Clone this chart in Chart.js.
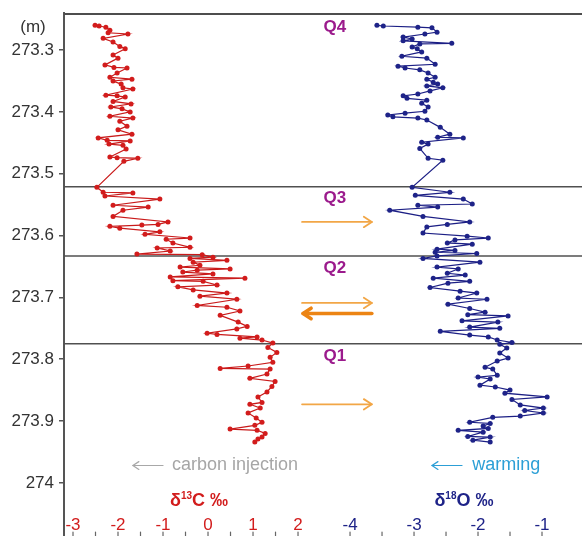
<!DOCTYPE html>
<html>
<head>
<meta charset="utf-8">
<script src="https://cdn.jsdelivr.net/npm/chart.js@4.4.0/dist/chart.umd.min.js"></script>
<style>
  body { margin: 0; background: #fff; }
  canvas { display: block; }
</style>
</head>
<body>
<canvas id="isoChart" width="582" height="536"></canvas>
<script>
// depth (m) and delta13C (permil)
const redDepth = [
  273.260, 273.261, 273.263, 273.268, 273.272, 273.274, 273.281, 273.287, 273.294, 273.298,
  273.308, 273.313, 273.324, 273.328, 273.329, 273.337, 273.344, 273.347, 273.350, 273.355,
  273.361, 273.363, 273.373, 273.374, 273.376, 273.383, 273.387, 273.392, 273.395, 273.400,
  273.407, 273.410, 273.415, 273.423, 273.429, 273.436, 273.442, 273.446, 273.447, 273.452,
  273.454, 273.460, 273.473, 273.474, 273.475, 273.480, 273.522, 273.530, 273.531, 273.536,
  273.541, 273.551, 273.554, 273.559, 273.569, 273.578, 273.582, 273.583, 273.585, 273.588,
  273.594, 273.598, 273.604, 273.606, 273.612, 273.619, 273.620, 273.625, 273.630, 273.631,
  273.635, 273.637, 273.640, 273.643, 273.648, 273.651, 273.654, 273.656, 273.659, 273.662,
  273.667, 273.669, 273.673, 273.674, 273.680, 273.683, 273.688, 273.693, 273.698, 273.703,
  273.713, 273.716, 273.722, 273.729, 273.740, 273.747, 273.751, 273.758, 273.760, 273.764,
  273.766, 273.769, 273.774, 273.781, 273.789, 273.797, 273.805, 273.811, 273.815, 273.816,
  273.824, 273.831, 273.836, 273.844, 273.853, 273.861, 273.870, 273.873, 273.879, 273.887,
  273.895, 273.902, 273.907, 273.913, 273.915, 273.920, 273.926, 273.929, 273.934
];
const redValue = [
  -2.51, -2.42, -2.27, -2.18, -2.22, -1.78, -2.33, -2.11, -1.96, -1.84,
  -2.11, -2.00, -2.29, -2.09, -1.80, -2.02, -2.18, -1.69, -2.11, -1.93,
  -1.89, -1.67, -2.27, -2.02, -1.84, -2.11, -1.71, -2.16, -1.91, -1.73,
  -2.18, -1.67, -1.96, -1.80, -2.00, -1.69, -2.44, -2.24, -1.73, -2.20,
  -1.89, -1.82, -2.18, -2.02, -1.56, -1.87, -2.47, -2.33, -1.67, -2.29,
  -1.07, -2.11, -1.33, -1.89, -2.11, -0.89, -1.11, -1.47, -2.18, -1.96,
  -1.07, -1.40, -0.40, -0.93, -0.78, -0.40, -1.13, -0.84, -1.58, -0.13,
  0.11, -0.40, 0.42, -0.33, -0.18, -0.62, 0.49, -0.24, -0.56, 0.11,
  -0.84, 0.82, -0.78, -0.11, 0.20, -0.67, -0.33, 0.42, -0.18, 0.64,
  -0.24, 0.42, 0.71, 0.27, 0.67, 0.87, 0.64, -0.02, 0.20, 1.09,
  0.71, 1.20, 1.44, 1.33, 1.53, 1.38, 1.44, 0.89, 0.27, 1.38,
  1.31, 0.93, 1.49, 1.42, 1.31, 1.11, 1.20, 0.93, 1.16, 0.89,
  1.07, 1.20, 1.04, 0.49, 1.09, 1.27, 1.20, 1.11, 1.04
];

// depth (m) and delta18O (permil)
const blueDepth = [
  273.260, 273.261, 273.263, 273.264, 273.271, 273.274, 273.279, 273.282, 273.285, 273.289,
  273.290, 273.295, 273.298, 273.303, 273.310, 273.313, 273.323, 273.326, 273.329, 273.332,
  273.337, 273.344, 273.347, 273.352, 273.355, 273.358, 273.361, 273.366, 273.371, 273.374,
  273.378, 273.381, 273.386, 273.392, 273.399, 273.402, 273.405, 273.408, 273.410, 273.413,
  273.425, 273.436, 273.441, 273.442, 273.449, 273.452, 273.459, 273.475, 273.478, 273.522,
  273.530, 273.535, 273.541, 273.549, 273.551, 273.554, 273.559, 273.569, 273.578, 273.582,
  273.586, 273.596, 273.601, 273.604, 273.607, 273.612, 273.614, 273.622, 273.624, 273.627,
  273.629, 273.633, 273.637, 273.643, 273.651, 273.654, 273.661, 273.664, 273.669, 273.674,
  273.677, 273.684, 273.690, 273.693, 273.701, 273.703, 273.711, 273.718, 273.724, 273.728,
  273.730, 273.738, 273.740, 273.748, 273.750, 273.755, 273.761, 273.764, 273.769, 273.773,
  273.776, 273.782, 273.790, 273.798, 273.803, 273.813, 273.816, 273.826, 273.829, 273.832,
  273.842, 273.845, 273.850, 273.855, 273.861, 273.865, 273.874, 273.879, 273.883, 273.887,
  273.892, 273.894, 273.902, 273.904, 273.908, 273.912, 273.915, 273.918, 273.925, 273.926,
  273.931, 273.934
];
const blueValue = [
  -3.58, -3.48, -2.94, -2.72, -2.64, -2.83, -3.17, -3.03, -3.17, -2.41,
  -2.91, -3.03, -2.95, -2.88, -3.19, -2.80, -2.67, -3.25, -3.14, -2.91,
  -2.78, -2.67, -2.80, -2.70, -2.63, -2.80, -2.55, -2.75, -2.94, -3.17,
  -3.11, -2.80, -2.88, -2.78, -2.83, -3.14, -3.41, -3.33, -2.94, -2.80,
  -2.59, -2.44, -2.63, -2.23, -2.88, -2.78, -2.91, -2.78, -2.55, -3.03,
  -2.44, -2.98, -2.23, -2.09, -2.94, -2.63, -3.38, -2.86, -2.13, -2.48,
  -2.80, -2.86, -2.17, -1.84, -2.36, -2.48, -2.09, -2.64, -2.36, -2.67,
  -2.02, -2.64, -2.86, -1.97, -2.64, -2.31, -2.48, -2.20, -2.70, -2.13,
  -2.47, -2.75, -2.28, -2.02, -2.31, -1.86, -2.47, -2.13, -1.89, -2.16,
  -1.53, -2.25, -1.69, -2.13, -1.66, -2.59, -2.13, -1.84, -1.70, -1.47,
  -1.66, -1.55, -1.66, -1.53, -1.70, -1.89, -1.77, -1.70, -2.00, -1.81,
  -1.97, -1.73, -1.50, -1.58, -0.92, -1.47, -1.34, -0.98, -1.27, -0.98,
  -1.34, -1.77, -2.13, -1.81, -1.92, -1.84, -2.31, -1.92, -2.16, -1.81,
  -2.08, -1.81
];

const yTicks = [273.3, 273.4, 273.5, 273.6, 273.7, 273.8, 273.9, 274.0];
const yTickLabels = ['273.3', '273.4', '273.5', '273.6', '273.7', '273.8', '273.9', '274'];
const redTicks = [-3, -2, -1, 0, 1, 2];
const blueTicks = [-4, -3, -2, -1];

const zoneBounds = [273.521, 273.633, 273.775];
const zoneNames = ['Q4', 'Q3', 'Q2', 'Q1'];
const zoneLabelDepth = [273.263, 273.539, 273.653, 273.795];
const arrowDepth = [273.578, 273.709, 273.726, 273.873];
const arrowDir = [1, 1, -1, 1];

const FONT = '"Liberation Sans", Arial, sans-serif';
const RED = '#d21c1c';
const NAVY = '#1e2388';

function drawArrow(ctx, x1, x2, py, color, width, head) {
  const dir = Math.sign(x2 - x1);
  ctx.strokeStyle = color;
  ctx.lineWidth = width;
  ctx.lineCap = 'round';
  ctx.lineJoin = 'round';
  ctx.beginPath();
  ctx.moveTo(x1, py);
  ctx.lineTo(x2, py);
  ctx.stroke();
  ctx.beginPath();
  ctx.moveTo(x2 - dir * head, py - head * 0.65);
  ctx.lineTo(x2, py);
  ctx.lineTo(x2 - dir * head, py + head * 0.65);
  ctx.stroke();
}

function isoTitle(ctx, cx, cy, mass, rest, color) {
  const big = 'bold 18px ' + FONT, small = 'bold 10px ' + FONT;
  ctx.font = big;
  const wd = ctx.measureText('δ').width, wr = ctx.measureText(rest).width;
  ctx.font = small;
  const wm = ctx.measureText(mass).width;
  let x = cx - (wd + wm + wr) / 2;
  ctx.fillStyle = color;
  ctx.textAlign = 'left';
  ctx.textBaseline = 'alphabetic';
  ctx.font = big;
  ctx.fillText('δ', x, cy + 6);
  x += wd;
  ctx.font = small;
  ctx.fillText(mass, x, cy - 1);
  x += wm;
  ctx.font = big;
  ctx.fillText(rest, x, cy + 6);
}

const decorations = {
  id: 'decorations',
  beforeDatasetsDraw(chart) {
    const { ctx, chartArea: a } = chart;
    const y = chart.scales.y;
    ctx.save();
    ctx.strokeStyle = '#4d4d4d';
    ctx.lineWidth = 2;
    ctx.beginPath();
    ctx.moveTo(a.left, a.top + 1);
    ctx.lineTo(a.right, a.top + 1);
    ctx.stroke();
    ctx.lineWidth = 1.6;
    ctx.strokeStyle = '#505050';
    zoneBounds.forEach(d => {
      const py = y.getPixelForValue(d);
      ctx.beginPath();
      ctx.moveTo(a.left, py);
      ctx.lineTo(a.right, py);
      ctx.stroke();
    });
    ctx.restore();
  },
  afterDraw(chart) {
    const { ctx, chartArea: a } = chart;
    const y = chart.scales.y, xc = chart.scales.xc, xo = chart.scales.xo;
    ctx.save();

    ctx.font = '17px ' + FONT;
    ctx.fillStyle = '#333';
    ctx.textAlign = 'center';
    ctx.textBaseline = 'middle';
    ctx.fillText('(m)', 33, 27);

    // zone labels
    ctx.font = 'bold 17px ' + FONT;
    ctx.fillStyle = '#9b1a8c';
    zoneNames.forEach((q, i) => {
      ctx.fillText(q, xc.getPixelForValue(2.82), y.getPixelForValue(zoneLabelDepth[i]));
    });

    // shift arrows
    const ax1 = xc.getPixelForValue(2.09), ax2 = xc.getPixelForValue(3.64);
    arrowDepth.forEach((d, i) => {
      const py = y.getPixelForValue(d);
      if (arrowDir[i] > 0) drawArrow(ctx, ax1, ax2, py, '#f2a646', 1.8, 8);
      else drawArrow(ctx, ax2, ax1 + 1, py, '#ec8414', 3.6, 8);
    });

    // annotations
    const ay = y.getPixelForValue(273.972);
    drawArrow(ctx, xc.getPixelForValue(-1.0), xc.getPixelForValue(-1.67), ay, '#a8a8a8', 1.2, 6);
    ctx.font = '18px ' + FONT;
    ctx.textAlign = 'left';
    ctx.fillStyle = '#a6a6a6';
    ctx.fillText('carbon injection', xc.getPixelForValue(-0.8), ay);
    drawArrow(ctx, xo.getPixelForValue(-2.25), xo.getPixelForValue(-2.72), ay, '#2c9fd6', 1.2, 6);
    ctx.fillStyle = '#2c9fd6';
    ctx.fillText('warming', xo.getPixelForValue(-2.09), ay);

    // axis titles
    const ty = y.getPixelForValue(274.028);
    isoTitle(ctx, xc.getPixelForValue(-0.2), ty, '13', 'C ‰', RED);
    isoTitle(ctx, xo.getPixelForValue(-2.22), ty, '18', 'O ‰', NAVY);

    // x tick labels and marks
    const ly = y.getPixelForValue(274.069);
    ctx.font = '17px ' + FONT;
    ctx.textAlign = 'center';
    ctx.textBaseline = 'middle';
    ctx.fillStyle = RED;
    redTicks.forEach(v => ctx.fillText(String(v), xc.getPixelForValue(v), ly));
    ctx.fillStyle = NAVY;
    blueTicks.forEach(v => ctx.fillText(String(v), xo.getPixelForValue(v), ly));

    ctx.strokeStyle = '#666';
    ctx.lineWidth = 1.2;
    const mark = px => {
      ctx.beginPath();
      ctx.moveTo(px, a.bottom - 4);
      ctx.lineTo(px, a.bottom);
      ctx.stroke();
    };
    for (let v = -3; v <= 2; v += 0.5) mark(xc.getPixelForValue(v));
    for (let v = -4; v <= -1; v += 0.5) mark(xo.getPixelForValue(v));

    ctx.restore();
  }
};

const redData = redDepth.map((d, i) => ({ x: redValue[i], y: d }));
const blueData = blueDepth.map((d, i) => ({ x: blueValue[i], y: d }));

new Chart(document.getElementById('isoChart').getContext('2d'), {
  type: 'scatter',
  data: {
    datasets: [{
      label: 'δ13C',
      data: redData,
      xAxisID: 'xc',
      yAxisID: 'y',
      showLine: true,
      borderColor: '#c91a1a',
      borderWidth: 1.2,
      pointRadius: 2.5,
      pointBackgroundColor: RED,
      pointBorderColor: RED,
      pointBorderWidth: 0
    }, {
      label: 'δ18O',
      data: blueData,
      xAxisID: 'xo',
      yAxisID: 'y',
      showLine: true,
      borderColor: '#1c1f85',
      borderWidth: 1.2,
      pointRadius: 2.5,
      pointBackgroundColor: NAVY,
      pointBorderColor: NAVY,
      pointBorderWidth: 0
    }]
  },
  options: {
    responsive: false,
    animation: false,
    layout: { autoPadding: false, padding: { top: 13, right: 0, bottom: 0, left: 0 } },
    plugins: {
      legend: { display: false },
      tooltip: { enabled: false }
    },
    scales: {
      xc: { type: 'linear', axis: 'x', display: false, min: -3.2, max: 8.31 },
      xo: { type: 'linear', axis: 'x', display: false, min: -8.47, max: -0.375 },
      y: {
        type: 'linear',
        position: 'left',
        reverse: true,
        min: 273.24,
        max: 274.086,
        afterBuildTicks: s => { s.ticks = yTicks.map(v => ({ value: v })); },
        afterFit: s => { s.width = 64; s.paddingTop = 0; s.paddingBottom = 0; },
        ticks: {
          font: { size: 17, family: FONT },
          color: '#333',
          padding: 5,
          callback: (v, i) => yTickLabels[i]
        },
        grid: { drawOnChartArea: false, tickLength: 5, color: '#555', lineWidth: 1.5 },
        border: { display: true, color: '#555', width: 2 }
      }
    }
  },
  plugins: [decorations]
});
</script>
</body>
</html>
